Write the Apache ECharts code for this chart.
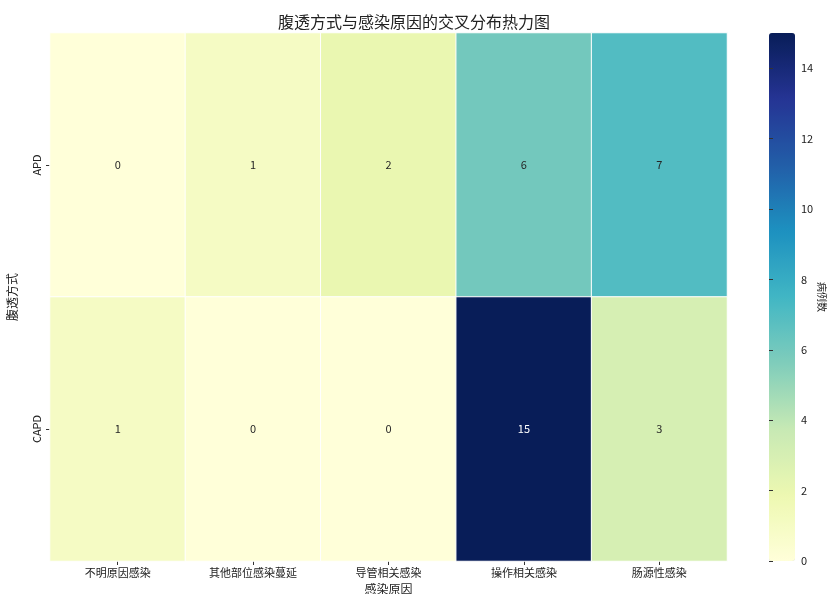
<!DOCTYPE html>
<html><head><meta charset="utf-8">
<script src="https://cdn.jsdelivr.net/npm/echarts@6/dist/echarts.min.js"></script>
<style>html,body{margin:0;padding:0;background:#fff}#c{width:828px;height:594px}</style>
</head><body><div id="c"></div>
<script>
const title = '腹透方式与感染原因的交叉分布热力图';
const causes = ['不明原因感染','其他部位感染蔓延','导管相关感染','操作相关感染','肠源性感染'];
const modes = ['APD','CAPD'];
const apdValues = [0,1,2,6,7];
const capdValues = [1,0,0,15,3];
const colorTicks = [0,2,4,6,8,10,12,14];
const ylgnbu = ['#ffffd9','#edf8b1','#c7e9b4','#7fcdbb','#41b6c4','#1d91c0','#225ea8','#253494','#081d58'];

const rows = [apdValues, capdValues];
const data = [];
rows.forEach((r, yi) => r.forEach((v, xi) => data.push({
  value: [xi, yi, v],
  label: {color: v > 9 ? '#ffffff' : '#262626'}
})));

const font = '"Noto Sans CJK SC", "Noto Sans", sans-serif';
const chart = echarts.init(document.getElementById('c'));
chart.setOption({
  animation: false,
  textStyle: {fontFamily: font},
  title: {text: title, left: 'center', top: 9, textStyle: {fontSize: 16, fontWeight: 'normal', color: '#222', fontFamily: font}},
  grid: [
    {left: 50, top: 33, width: 677, height: 528, outerBoundsMode: 'none', containLabel: false},
    {left: 769, top: 33, width: 26, height: 528, outerBoundsMode: 'none', containLabel: false}
  ],
  xAxis: [
    {type: 'category', data: causes, gridIndex: 0, name: '感染原因', nameLocation: 'middle', nameGap: 22,
     nameTextStyle: {fontSize: 12, color: '#222'},
     axisLine: {show: false}, axisTick: {show: true, alignWithLabel: true, length: 4, lineStyle: {color: '#333'}},
     axisLabel: {fontSize: 11, color: '#222', margin: 6}, splitLine: {show: false}},
    {type: 'value', gridIndex: 1, show: false, min: 0, max: 1}
  ],
  yAxis: [
    {type: 'category', data: modes, gridIndex: 0, inverse: true, name: '腹透方式', nameLocation: 'middle', nameGap: 32,
     nameTextStyle: {fontSize: 12, color: '#222'},
     axisLine: {show: false}, axisTick: {show: true, alignWithLabel: true, length: 4, lineStyle: {color: '#333'}},
     axisLabel: {fontSize: 11, color: '#222', rotate: 90, margin: 8}, splitLine: {show: false}},
    {type: 'value', gridIndex: 1, position: 'right', min: 0, max: 15, interval: 2, z: 10,
     name: '病例数', nameLocation: 'middle', nameGap: 22, nameRotate: -90,
     nameTextStyle: {fontSize: 10, color: '#222'},
     axisLine: {show: false}, axisTick: {show: true, inside: false, length: 4, lineStyle: {color: '#333'}},
     axisLabel: {fontSize: 11, color: '#222', margin: 6, showMaxLabel: false},
     splitLine: {show: false}}
  ],
  visualMap: {
    type: 'continuous', min: 0, max: 15, seriesIndex: 0, calculable: false, z: 1,
    orient: 'vertical', left: 769, top: 33, itemWidth: 26, itemHeight: 528, padding: 0,
    text: null, showLabel: false, inRange: {color: ylgnbu}
  },
  series: [{
    type: 'heatmap', xAxisIndex: 0, yAxisIndex: 0, data: data,
    itemStyle: {borderColor: '#ffffff', borderWidth: 1},
    label: {show: true, fontSize: 11, formatter: p => p.value[2]},
    emphasis: {disabled: true}
  }]
});
</script></body></html>
